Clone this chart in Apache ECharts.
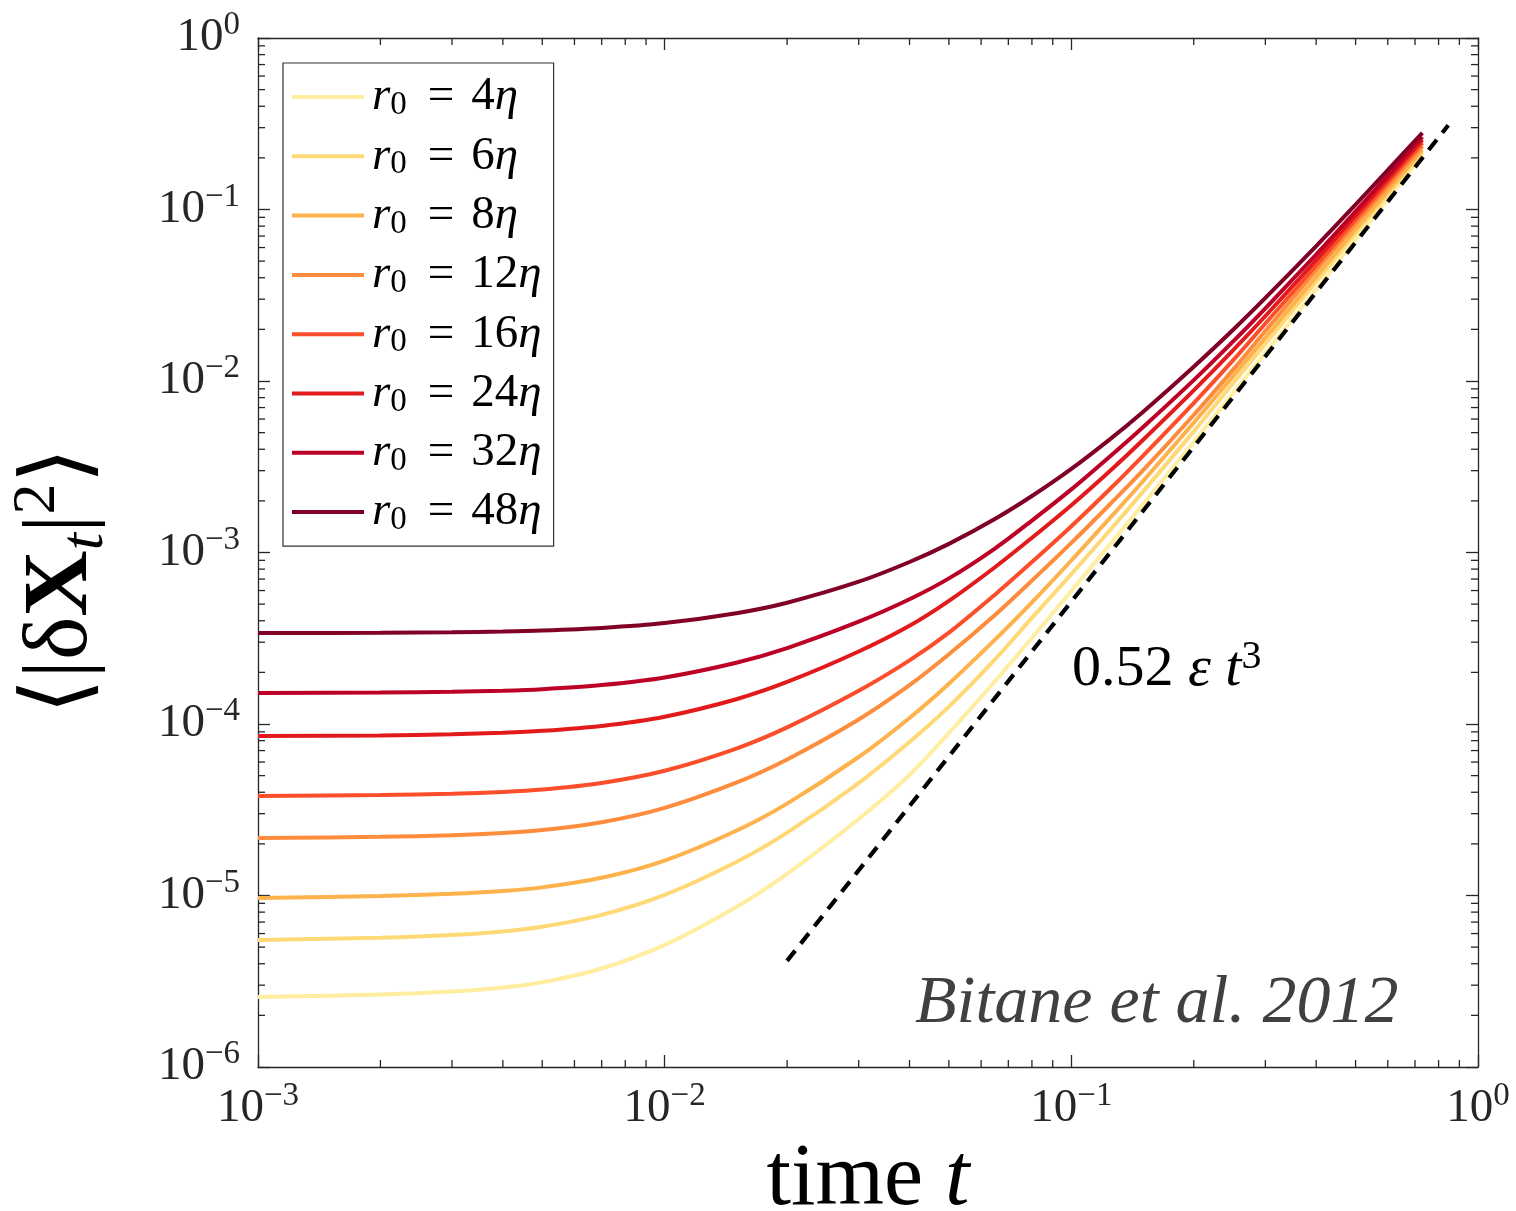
<!DOCTYPE html>
<html><head><meta charset="utf-8">
<script src="https://cdn.jsdelivr.net/npm/echarts@6/dist/echarts.min.js"></script>
<style>html,body{margin:0;padding:0;background:#fff;}#c{width:1516px;height:1211px;}</style>
</head><body><div id="c"></div>
<script>
// ---- data ----
const times = [0.001, 0.002, 0.003, 0.004, 0.005, 0.007, 0.01, 0.015, 0.02, 0.03, 0.04, 0.05, 0.065, 0.08, 0.1, 0.125, 0.15, 0.2, 0.25, 0.3, 0.4, 0.5, 0.6, 0.73];
const r4  = [2.560e-6, 2.644e-6, 2.753e-6, 2.904e-6, 3.118e-6, 3.752e-6, 5.152e-6, 8.569e-6, 1.337e-5, 2.793e-5, 5.042e-5, 8.862e-5, 1.781e-4, 3.173e-4, 5.963e-4, 1.129e-3, 1.905e-3, 4.409e-3, 8.522e-3, 1.462e-2, 3.416e-2, 6.685e-2, 0.1151, 0.2078];
const r6  = [5.502e-6, 5.674e-6, 5.884e-6, 6.175e-6, 6.568e-6, 7.706e-6, 1.008e-5, 1.568e-5, 2.327e-5, 4.523e-5, 7.845e-5, 1.263e-4, 2.390e-4, 4.156e-4, 7.483e-4, 1.366e-3, 2.259e-3, 5.083e-3, 9.723e-3, 1.650e-2, 3.793e-2, 7.284e-2, 0.1231, 0.2161];
const r8  = [9.670e-6, 9.933e-6, 1.023e-5, 1.062e-5, 1.115e-5, 1.268e-5, 1.598e-5, 2.384e-5, 3.435e-5, 6.421e-5, 1.084e-4, 1.718e-4, 3.113e-4, 5.124e-4, 8.983e-4, 1.606e-3, 2.604e-3, 5.713e-3, 1.068e-2, 1.788e-2, 4.057e-2, 7.656e-2, 0.1284, 0.2233];
const r12 = [2.164e-5, 2.199e-5, 2.247e-5, 2.314e-5, 2.406e-5, 2.672e-5, 3.242e-5, 4.547e-5, 6.209e-5, 1.062e-4, 1.684e-4, 2.550e-4, 4.338e-4, 6.858e-4, 1.138e-3, 1.931e-3, 3.011e-3, 6.334e-3, 1.165e-2, 1.956e-2, 4.421e-2, 8.264e-2, 0.1368, 0.2343];
const r16 = [3.803e-5, 3.849e-5, 3.917e-5, 4.013e-5, 4.144e-5, 4.529e-5, 5.335e-5, 7.189e-5, 9.555e-5, 1.562e-4, 2.349e-4, 3.407e-4, 5.697e-4, 8.790e-4, 1.422e-3, 2.368e-3, 3.663e-3, 7.431e-3, 1.322e-2, 2.165e-2, 4.716e-2, 8.720e-2, 0.1433, 0.2446];
const r24 = [8.511e-5, 8.580e-5, 8.720e-5, 8.898e-5, 9.128e-5, 9.748e-5, 1.103e-4, 1.395e-4, 1.758e-4, 2.647e-4, 3.737e-4, 5.222e-4, 8.232e-4, 1.218e-3, 1.887e-3, 3.019e-3, 4.529e-3, 8.815e-3, 1.512e-2, 2.393e-2, 5.070e-2, 9.213e-2, 0.1502, 0.2546];
const r32 = [1.516e-4, 1.524e-4, 1.541e-4, 1.564e-4, 1.596e-4, 1.686e-4, 1.867e-4, 2.275e-4, 2.771e-4, 3.949e-4, 5.335e-4, 7.063e-4, 1.058e-3, 1.535e-3, 2.333e-3, 3.667e-3, 5.378e-3, 1.012e-2, 1.702e-2, 2.654e-2, 5.465e-2, 9.748e-2, 0.1577, 0.2647];
const r48 = [3.393e-4, 3.402e-4, 3.425e-4, 3.462e-4, 3.509e-4, 3.634e-4, 3.880e-4, 4.428e-4, 5.097e-4, 6.757e-4, 8.803e-4, 1.123e-3, 1.573e-3, 2.135e-3, 3.073e-3, 4.615e-3, 6.603e-3, 1.212e-2, 1.991e-2, 3.051e-2, 6.117e-2, 0.1068, 0.1697, 0.2800];
const radii = [4, 6, 8, 12, 16, 24, 32, 48];
const seriesValues = [r4, r6, r8, r12, r16, r24, r32, r48];
const colors = ['#ffeda0', '#fed976', '#feb24c', '#fd8d3c', '#fc4e2a', '#e31a1c', '#bd0026', '#800026'];
// dashed reference line 0.52 eps t^3 (end points)
const fitT = [0.02, 0.845];
const fitV = [4.16e-6, 0.31];
// minor tick positions
const xMinorTicks = [2e-3,3e-3,4e-3,5e-3,6e-3,7e-3,8e-3,9e-3, 2e-2,3e-2,4e-2,5e-2,6e-2,7e-2,8e-2,9e-2, 0.2,0.3,0.4,0.5,0.6,0.7,0.8,0.9];
const yMinorTicks = [2e-6,3e-6,4e-6,5e-6,6e-6,7e-6,8e-6,9e-6, 2e-5,3e-5,4e-5,5e-5,6e-5,7e-5,8e-5,9e-5,
  2e-4,3e-4,4e-4,5e-4,6e-4,7e-4,8e-4,9e-4, 2e-3,3e-3,4e-3,5e-3,6e-3,7e-3,8e-3,9e-3,
  2e-2,3e-2,4e-2,5e-2,6e-2,7e-2,8e-2,9e-2, 0.2,0.3,0.4,0.5,0.6,0.7,0.8,0.9];
const X_MIN = 1e-3, X_MAX = 1, Y_MIN = 1e-6, Y_MAX = 1;

const FF = '"Liberation Serif", "DejaVu Serif", serif';
const AX = '#262626';
const chart = echarts.init(document.getElementById('c'), null, {renderer: 'canvas'});

function expLabel(v) {
  const e = Math.round(Math.log10(v));
  return '{b|10}{s|' + (e < 0 ? '\u2212' + (-e) : String(e)) + '}';
}
const labelRich = {
  b: {fontFamily: FF, fontSize: 47, lineHeight: 58, verticalAlign: 'middle', color: AX},
  s: {fontFamily: FF, fontSize: 33, lineHeight: 33, verticalAlign: 'top', color: AX}
};
function axisBase(pos, isX, showLabel) {
  return {
    type: 'log', logBase: 10,
    min: isX ? X_MIN : Y_MIN, max: isX ? X_MAX : Y_MAX,
    splitNumber: isX ? 3 : 6,
    position: pos,
    axisLine: {show: true, onZero: false, lineStyle: {color: AX, width: 1.3}},
    axisTick: {show: true, inside: true, length: 12, lineStyle: {color: AX, width: 1.3}},
    minorTick: {show: false},
    splitLine: {show: false},
    axisLabel: {
      show: showLabel, margin: isX ? 13 : 18, formatter: expLabel, rich: labelRich,
      showMinLabel: true, showMaxLabel: true
    }
  };
}

const series = seriesValues.map((vals, i) => ({
  name: 'r0 = ' + radii[i] + 'η',
  type: 'line',
  data: times.map((t, j) => [t, vals[j]]),
  color: colors[i],
  symbol: 'none', showSymbol: false,
  smooth: 0.3,
  lineStyle: {width: 4, color: colors[i]},
  z: 2, silent: true
}));
series.push({
  name: 'fit', type: 'line',
  data: fitT.map((t, j) => [t, fitV[j]]),
  symbol: 'none', showSymbol: false,
  lineStyle: {width: 4.2, color: '#000', type: [13, 9]},
  z: 4, silent: true
});
function tickRender(isX) {
  return function (params, api) {
    const v = api.value(isX ? 0 : 1);
    const st = {stroke: AX, lineWidth: 1.3};
    if (isX) {
      const b = api.coord([v, Y_MIN]), t = api.coord([v, Y_MAX]);
      return {type: 'group', children: [
        {type: 'line', shape: {x1: b[0], y1: b[1], x2: b[0], y2: b[1] - 7}, style: st},
        {type: 'line', shape: {x1: t[0], y1: t[1], x2: t[0], y2: t[1] + 7}, style: st}
      ]};
    }
    const l = api.coord([X_MIN, v]), r = api.coord([X_MAX, v]);
    return {type: 'group', children: [
      {type: 'line', shape: {x1: l[0], y1: l[1], x2: l[0] + 7, y2: l[1]}, style: st},
      {type: 'line', shape: {x1: r[0], y1: r[1], x2: r[0] - 7, y2: r[1]}, style: st}
    ]};
  };
}
series.push({type: 'custom', name: 'xminor', silent: true, clip: false, z: 6,
  encode: {x: 0, y: 1}, data: xMinorTicks.map(v => [v, 1e-3]), renderItem: tickRender(true)});
series.push({type: 'custom', name: 'yminor', silent: true, clip: false, z: 6,
  encode: {x: 0, y: 1}, data: yMinorTicks.map(v => [1e-2, v]), renderItem: tickRender(false)});

const option = {
  backgroundColor: '#fff',
  animation: false,
  grid: {left: 258, right: 38, top: 38, bottom: 144, containLabel: false},
  xAxis: [axisBase('bottom', true, true), axisBase('top', true, false)],
  yAxis: [axisBase('left', false, true), axisBase('right', false, false)],
  legend: {
    data: series.slice(0, 8).map(s => s.name),
    orient: 'vertical', left: 283, top: 63,
    padding: [9, 12, 9, 9],
    itemGap: 9.3, itemWidth: 72, itemHeight: 4, icon: 'rect',
    selectedMode: false,
    backgroundColor: '#fff', borderColor: '#333', borderWidth: 1.2,
    formatter: function (name) {
      const r = name.split('= ')[1].replace('η', '');
      return '{i0|r}{sub|0}{eq|=}{n|' + r + '}{i|η}';
    },
    textStyle: {
      fontFamily: FF, fontSize: 47, color: '#000', lineHeight: 50,
      rich: {
        i0: {fontFamily: FF, fontStyle: 'italic', fontSize: 47, lineHeight: 50, verticalAlign: 'middle', padding: [0, 0, 0, 3]},
        i: {fontFamily: FF, fontStyle: 'italic', fontSize: 47, lineHeight: 50, verticalAlign: 'middle'},
        n: {fontFamily: FF, fontSize: 47, lineHeight: 50, verticalAlign: 'middle'},
        eq: {fontFamily: FF, fontSize: 47, lineHeight: 50, verticalAlign: 'middle', padding: [0, 17, 0, 21]},
        sub: {fontFamily: FF, fontSize: 33, lineHeight: 33, verticalAlign: 'bottom'}
      }
    }
  },
  graphic: [
    {type: 'text', x: 62, y: 581, rotation: Math.PI / 2, z: 10,
      style: {text: '{a|\u27E8|\u03B4}{b|X}{s|t}{a||}{p|2}{a|\u27E9}', align: 'center', verticalAlign: 'middle', fill: '#000',
        rich: {
          a: {fontFamily: FF, fontSize: 92, lineHeight: 110, verticalAlign: 'middle'},
          b: {fontFamily: FF, fontSize: 92, fontWeight: 'bold', lineHeight: 110, verticalAlign: 'middle'},
          s: {fontFamily: FF, fontSize: 62, fontStyle: 'italic', lineHeight: 62, verticalAlign: 'bottom'},
          p: {fontFamily: FF, fontSize: 62, lineHeight: 62, verticalAlign: 'top'}
        }}},
    {type: 'text', x: 868, y: 1181, z: 10,
      style: {text: '{a|time }{i|t}', align: 'center', verticalAlign: 'middle', fill: '#000',
        rich: {
          a: {fontFamily: FF, fontSize: 88, lineHeight: 96},
          i: {fontFamily: FF, fontSize: 88, fontStyle: 'italic', lineHeight: 96}
        }}},
    {type: 'text', x: 1072, y: 670, z: 10,
      style: {text: '{a|0.52 }{i|\u03B5 t}{p|3}', align: 'left', verticalAlign: 'middle', fill: '#000',
        rich: {
          a: {fontFamily: FF, fontSize: 58, lineHeight: 66, verticalAlign: 'middle'},
          i: {fontFamily: FF, fontSize: 58, fontStyle: 'italic', lineHeight: 66, verticalAlign: 'middle'},
          p: {fontFamily: FF, fontSize: 40, lineHeight: 40, verticalAlign: 'top'}
        }}},
    {type: 'text', x: 915, y: 1004, z: 10,
      style: {text: 'Bitane et al. 2012', align: 'left', verticalAlign: 'middle', fill: '#404040',
        font: 'italic 68px "Liberation Serif", serif'}}
  ],
  series: series
};
chart.setOption(option);
</script>
</body></html>
